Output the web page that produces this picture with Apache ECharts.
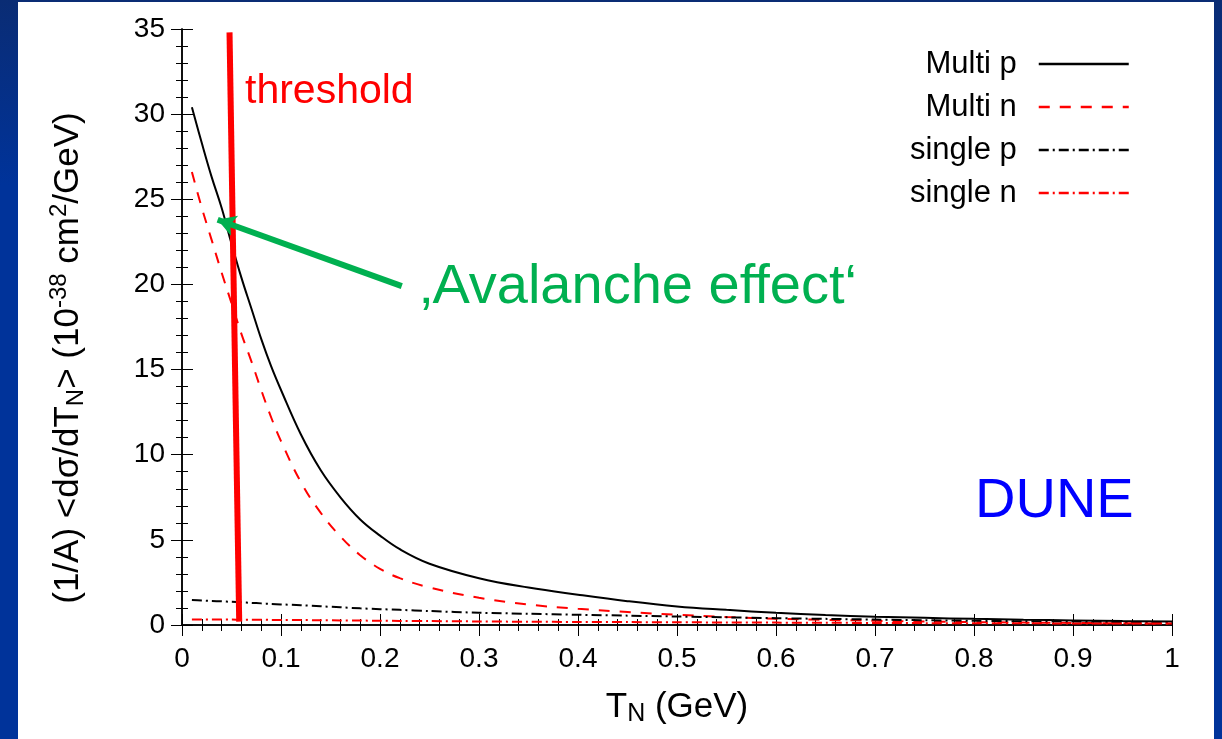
<!DOCTYPE html>
<html>
<head>
<meta charset="utf-8">
<script src="https://cdn.jsdelivr.net/npm/echarts@6/dist/echarts.min.js"></script>
<style>
  html, body { margin: 0; padding: 0; width: 1222px; height: 739px; overflow: hidden; }
  body { background: linear-gradient(to bottom, #0a2c74 0%, #00339a 25%, #00339a 100%); }
  #chart { position: absolute; left: 18px; top: 2px; width: 1196px; height: 737px; background: #ffffff; }
</style>
</head>
<body>
<div id="chart"></div>
<script>
// T_N (GeV) sample points
var tN = [0.01, 0.02, 0.03, 0.04, 0.05, 0.06, 0.07, 0.08, 0.09, 0.10, 0.12, 0.14, 0.16, 0.18, 0.20,
  0.22, 0.25, 0.30, 0.35, 0.40, 0.45, 0.50, 0.55, 0.60, 0.65, 0.70, 0.75, 0.80, 0.85, 0.90, 0.95, 1.00];
var multiP = [30.4, 28.3, 26.3, 24.5, 22.4, 20.4, 18.6, 16.8, 15.2, 13.8, 11.2, 9.1, 7.5, 6.2, 5.25,
  4.45, 3.6, 2.75, 2.2, 1.78, 1.4, 1.09, 0.89, 0.72, 0.59, 0.49, 0.42, 0.36, 0.31, 0.27, 0.23, 0.2];
var multiN = [26.6, 24.5, 22.6, 20.7, 18.9, 17.1, 15.5, 13.8, 12.2, 10.8, 8.4, 6.6, 5.2, 4.1, 3.3,
  2.75, 2.2, 1.6, 1.2, 0.95, 0.76, 0.6, 0.47, 0.37, 0.3, 0.25, 0.2, 0.17, 0.14, 0.12, 0.1, 0.09];
var singleP = [1.47, 1.44, 1.41, 1.39, 1.36, 1.33, 1.30, 1.27, 1.24, 1.21, 1.16, 1.10, 1.04, 0.98, 0.93,
  0.89, 0.82, 0.72, 0.66, 0.60, 0.55, 0.50, 0.45, 0.40, 0.36, 0.32, 0.28, 0.25, 0.22, 0.20, 0.17, 0.15];
var singleN = [0.33, 0.33, 0.32, 0.32, 0.32, 0.31, 0.31, 0.31, 0.30, 0.30, 0.29, 0.28, 0.27, 0.26, 0.25,
  0.24, 0.23, 0.21, 0.19, 0.18, 0.17, 0.16, 0.15, 0.14, 0.13, 0.12, 0.11, 0.10, 0.10, 0.09, 0.09, 0.08];
// threshold bar and the "avalanche" arrow, in data coordinates
var thresholdLine = [[0.048, 34.8], [0.0578, 0.2]];
var arrowFrom = [0.222, 19.9];
var arrowTo = [0.036, 23.8];

var xTicks = ['0', '0.1', '0.2', '0.3', '0.4', '0.5', '0.6', '0.7', '0.8', '0.9', '1'];
var yTicks = ['0', '5', '10', '15', '20', '25', '30', '35'];

function pairs(ys) {
  return tN.map(function (x, i) { return [x, ys[i]]; });
}

var font = 'Liberation Sans, Arial, sans-serif';
var myChart = echarts.init(document.getElementById('chart'));

var frameAxis = {
  type: 'value',
  axisLine: { show: true, lineStyle: { color: '#000', width: 1.5 } },
  axisTick: { show: true, inside: true, length: 11, lineStyle: { color: '#000', width: 1 } },
  minorTick: { show: true, splitNumber: 5, length: 6, lineStyle: { color: '#000', width: 1 } },
  splitLine: { show: false }
};

var option = {
  animation: false,
  textStyle: { fontFamily: font },
  grid: { left: 164, top: 27, width: 990, height: 596 },
  legend: {
    data: ['Multi p', 'Multi n', 'single p', 'single n'],
    orient: 'vertical',
    align: 'right',
    right: 79,
    top: 41,
    itemWidth: 90,
    itemHeight: 14,
    itemGap: 11,
    itemStyle: { opacity: 0 },
    lineStyle: { width: 2.5 },
    textStyle: { fontSize: 31, color: '#000', width: 140, align: 'right', lineHeight: 32, padding: [0, 17, 0, 0] }
  },
  xAxis: [
    Object.assign({}, frameAxis, {
      min: 0, max: 1, interval: 0.1, position: 'bottom',
      name: '{t|T}{s|N}{t| (GeV)}', nameLocation: 'middle', nameGap: 63,
      nameTextStyle: { rich: { t: { fontSize: 35, color: '#000' }, s: { fontSize: 25, color: '#000', padding: [14, 0, 0, 0] } } },
      axisLabel: { fontSize: 28, color: '#000', margin: 20, formatter: function (v) { return xTicks[Math.round(v * 10)]; } }
    }),
    Object.assign({}, frameAxis, {
      min: 0, max: 1, interval: 0.1, position: 'top', axisLabel: { show: false }
    })
  ],
  yAxis: [
    Object.assign({}, frameAxis, {
      min: 0, max: 35, interval: 5, position: 'left',
      name: '{t|(1/A) <dσ/dT}{s|N}{t|> (10}{p|-38}{t| cm}{p|2}{t|/GeV)}',
      nameLocation: 'middle', nameGap: 93, nameRotate: 90,
      nameTextStyle: {
        padding: [0, 62, 0, 0],
        rich: {
          t: { fontSize: 35, color: '#000' },
          s: { fontSize: 24, color: '#000', padding: [16, 0, 0, 0] },
          p: { fontSize: 24, color: '#000', padding: [0, 0, 18, 0] }
        }
      },
      axisLabel: { fontSize: 28, color: '#000', margin: 17, formatter: function (v) { return yTicks[Math.round(v / 5)]; } }
    }),
    Object.assign({}, frameAxis, {
      min: 0, max: 35, interval: 5, position: 'right', axisLabel: { show: false }
    })
  ],
  series: [
    {
      name: 'Multi p', type: 'line', data: pairs(multiP), smooth: 0.4, symbol: 'none',
      lineStyle: { color: '#000', width: 2 }, itemStyle: { color: '#000' }, z: 3
    },
    {
      name: 'Multi n', type: 'line', data: pairs(multiN), smooth: 0.4, symbol: 'none',
      lineStyle: { color: '#ff0000', width: 2, type: [11, 10] }, itemStyle: { color: '#ff0000' }, z: 3
    },
    {
      name: 'single p', type: 'line', data: pairs(singleP), smooth: 0.3, symbol: 'none',
      lineStyle: { color: '#000', width: 2, type: [10, 4, 2, 4] }, itemStyle: { color: '#000' }, z: 3
    },
    {
      name: 'single n', type: 'line', data: pairs(singleN), smooth: 0.3, symbol: 'none',
      lineStyle: { color: '#ff0000', width: 2, type: [10, 4, 2, 4] }, itemStyle: { color: '#ff0000' }, z: 3
    },
    {
      name: 'threshold', type: 'line', data: thresholdLine, symbol: 'none',
      lineStyle: { color: '#ff0000', width: 6 }, z: 5,
      markLine: {
        silent: true, symbol: ['none', 'arrow'], symbolSize: [16, 18],
        label: { show: false },
        lineStyle: { color: '#00b050', width: 6, type: 'solid' },
        data: [[{ coord: arrowFrom }, { coord: arrowTo }]],
        z: 6
      }
    }
  ],
  graphic: [
    { type: 'text', left: 227, top: 69, z: 10, style: { text: 'threshold', fill: '#ff0000', font: '41px ' + font } },
    { type: 'text', left: 402, top: 258, z: 10, style: { text: '‚Avalanche effect‘', fill: '#00b050', font: '56px ' + font } },
    { type: 'text', left: 957, top: 472, z: 10, style: { text: 'DUNE', fill: '#0000ff', font: '56px ' + font } }
  ]
};

myChart.setOption(option);
</script>
</body>
</html>
